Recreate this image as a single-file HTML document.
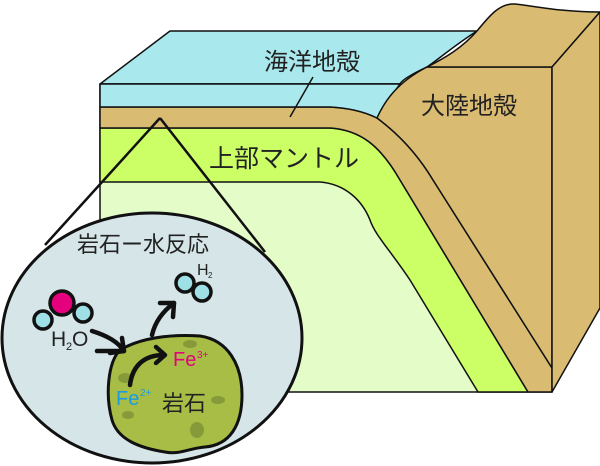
<!DOCTYPE html>
<html><head><meta charset="utf-8"><style>
html,body{margin:0;padding:0;background:#fff;width:600px;height:466px;overflow:hidden}
svg text{font-family:"Liberation Sans","Noto Sans CJK JP",sans-serif}
</style></head><body>
<svg width="600" height="466" viewBox="0 0 600 466" xmlns="http://www.w3.org/2000/svg">
<g stroke="#111" stroke-width="1.5" stroke-linejoin="round">
<path d="M100,84 L170,31 L477,31 C455,45 440,58 427,67 C410,75 402,80 400,84 Z" fill="#a9e8ec"/>
<path d="M100,84 L100,392 L552,392 L552,67 L427,67 C410,75 402,80 400,84 Z" fill="#e3fcc8"/>
<path d="M100,128 L330,128 C360,130 380,145 400,180 L528,392 L478,392 L410,280 C390,250 375,235 370,220 C362,200 345,184 320,182 L100,182 Z" fill="#ccfe66"/>
<path d="M100,107 L330,107 C350,108 365,112 377,118 C400,135 418,155 433,180 L552,368 L552,392 L528,392 L400,180 C380,145 360,130 330,128 L100,128 Z" fill="#d9bb72"/>
<path d="M100,84 L400,84 C390,98 382,108 377,118 C365,112 350,108 330,107 L100,107 Z" fill="#a9e8ec"/>
<path d="M377,118 C385,100 398,82 427,67 L552,67 L552,368 L433,180 C418,155 400,135 377,118 Z" fill="#d9bb72"/>
<path d="M427,67 C445,58 462,48 477,31 C490,15 500,3 515,4 C535,6 560,12 600,12 L552,67 Z" fill="#d9bb72"/>
<path d="M552,67 L600,12 L600,308 L552,392 Z" fill="#d9bb72"/>
<line x1="313" y1="77" x2="290" y2="117"/>
</g>
<text x="264" y="70" font-size="24" fill="#222">海洋地殻</text>
<text x="421" y="114" font-size="24" fill="#222">大陸地殻</text>
<text x="209" y="167" font-size="25" fill="#222">上部マントル</text>
<g stroke="#111" stroke-width="2.5" fill="none">
<line x1="160" y1="118" x2="45" y2="245"/>
<line x1="160" y1="118" x2="265" y2="252"/>
</g>
<ellipse cx="152" cy="338" rx="150" ry="125" fill="#d6e6e8" stroke="#111" stroke-width="3"/>
<text x="77" y="252" font-size="22" fill="#222">岩石ー水反応</text>
<path d="M120,350 C140,338 170,334 200,336 C228,340 242,365 242,395 C242,425 230,445 205,447 C190,448 180,455 165,452 C140,448 118,440 112,420 C105,395 108,362 120,350 Z" fill="#a7bd45" stroke="#111" stroke-width="3"/>
<ellipse cx="125" cy="378" rx="7" ry="5" fill="#869a3a"/>
<ellipse cx="190" cy="344" rx="7" ry="4" fill="#869a3a"/>
<ellipse cx="218" cy="400" rx="7" ry="4" fill="#869a3a"/>
<ellipse cx="197" cy="430" rx="7" ry="8" fill="#869a3a"/>
<ellipse cx="128" cy="415" rx="6" ry="4" fill="#869a3a"/>
<g stroke="#111" stroke-width="3.5">
<circle cx="43" cy="320" r="9" fill="#9ee0e6"/>
<circle cx="83" cy="313" r="9" fill="#9ee0e6"/>
<circle cx="62" cy="303" r="12" fill="#e5007e"/>
<circle cx="185" cy="283" r="9" fill="#9ee0e6"/>
<circle cx="202" cy="292" r="9" fill="#9ee0e6"/>
</g>
<text x="51" y="346" font-size="21" fill="#222">H</text>
<text x="66" y="350" font-size="11" fill="#222">2</text>
<text x="72" y="346" font-size="21" fill="#222">O</text>
<text x="197" y="275" font-size="16" fill="#222">H</text>
<text x="208" y="278" font-size="8" fill="#222">2</text>
<g stroke="#111" stroke-width="4.5" fill="none" stroke-linecap="round" stroke-linejoin="round">
<path d="M92,331 C108,336 118,342 124,351"/>
<path d="M110,353 L124,351 L122,338"/>
<path d="M97,351 L123,351"/>
<path d="M152,335 C155,322 162,312 174,303"/>
<path d="M160,303 L174,303 L173,317"/>
<path d="M130,385 C132,368 142,355 164,355"/>
<path d="M156,347 L165,355 L156,363"/>
</g>
<text x="173" y="366" font-size="20" fill="#e5007e">Fe</text>
<text x="197" y="358" font-size="10" fill="#e5007e">3+</text>
<text x="116" y="405" font-size="20" fill="#1a9be0">Fe</text>
<text x="140" y="396" font-size="10" fill="#1a9be0">2+</text>
<text x="162" y="411" font-size="22" fill="#222">岩石</text>
</svg>
</body></html>
